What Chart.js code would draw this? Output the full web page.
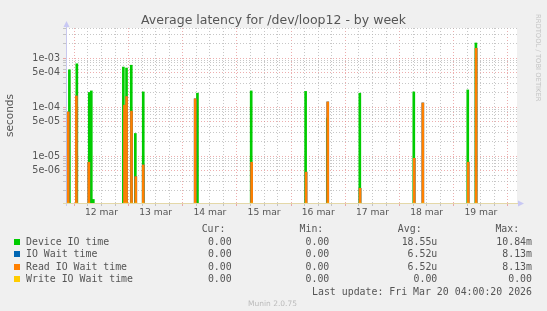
<!DOCTYPE html>
<html><head><meta charset="utf-8">
<script src="https://cdn.jsdelivr.net/npm/chart.js@4/dist/chart.umd.min.js"></script>
<style>
html,body{margin:0;padding:0;background:#f0f0f0;}
#wrap{position:relative;width:547px;height:311px;overflow:hidden;background:#f0f0f0;}
canvas{position:absolute;left:0;top:0;}
.t{position:absolute;white-space:pre;font-family:'DejaVu Sans Mono',monospace;font-size:9.9px;line-height:12px;color:#555;}
.sq{position:absolute;width:6px;height:6px;}
#rrd{position:absolute;left:534px;top:14px;writing-mode:vertical-rl;font-family:'DejaVu Sans',sans-serif;font-size:6.8px;line-height:8px;color:#c4c4c4;white-space:nowrap;}
#munin{position:absolute;left:0;width:545px;top:299px;text-align:center;font-family:'DejaVu Sans',sans-serif;font-size:7.5px;line-height:10px;color:#bbb;}
</style></head><body>
<div id="wrap"><canvas id="c" width="547" height="311"></canvas><div id="legend"></div><div id="rrd">RRDTOOL / TOBI OETIKER</div><div id="munin">Munin 2.0.75</div></div>
<script>
// ---- data (hours relative to 12 mar 00:00) ----
const dayLabels = ["12 mar","13 mar","14 mar","15 mar","16 mar","17 mar","18 mar","19 mar"];
const dayLabelHours = [12,36,60,84,108,132,156,180];
const xStartHour = -3.7;
const xEndHour = 196;
const yTickValues = [2e-6,3e-6,4e-6,5e-6,6e-6,7e-6,8e-6,9e-6,
  1e-5,2e-5,3e-5,4e-5,5e-5,6e-5,7e-5,8e-5,9e-5,
  1e-4,2e-4,3e-4,4e-4,5e-4,6e-4,7e-4,8e-4,9e-4,
  1e-3,2e-3,3e-3,4e-3];
const yLabelValues = [5e-6,1e-5,5e-5,1e-4,5e-4,1e-3];
const yLabelTexts = ["5e-06","1e-05","5e-05","1e-04","5e-04","1e-03"];
const yMin = 1.1e-6;
const yMax = 4.15e-3;

const deviceHours = [-2.2,1.1,6.6,7.5,8.4,21.7,23.1,25.2,27.0,30.5,54.5,78.3,102.4,112.0,126.4,150.3,174.2,177.8];
const deviceVals  = [5.8e-4,7.7e-4,2.0e-4,2.15e-4,1.3e-6,6.6e-4,6.3e-4,7.2e-4,2.9e-5,2.05e-4,1.93e-4,2.15e-4,2.1e-4,6e-5,1.93e-4,2.05e-4,2.25e-4,2.05e-3];
const waitHours   = [-2.7,0.9,6.4,22.2,23.1,25.3,27.2,30.5,53.5,78.5,102.6,112.2,126.5,150.5,154.3,174.4,177.9];
const ioWaitVals  = [8e-5,1.7e-4,7.5e-6,1.1e-4,1.65e-4,8.3e-5,3.8e-6,6.6e-6,1.48e-4,7.5e-6,4.7e-6,1.28e-4,2.2e-6,9e-6,1.22e-4,7.5e-6,1.6e-3];
const readWaitVals= [8e-5,1.7e-4,7.5e-6,1.1e-4,1.65e-4,8.3e-5,3.8e-6,6.6e-6,1.48e-4,7.5e-6,4.7e-6,1.28e-4,2.2e-6,9e-6,1.22e-4,7.5e-6,1.6e-3];
const writeWaitVals=[0,0,0,0,0,0,0,0,0,0,0,0,0,0,0,0,0];

const seriesNames = ["Device IO time","IO Wait time","Read IO Wait time","Write IO Wait time"];
const curVals = ["0.00","0.00","0.00","0.00"];
const minVals = ["0.00","0.00","0.00","0.00"];
const avgVals = ["18.55u","6.52u","6.52u","0.00"];
const maxVals = ["10.84m","8.13m","8.13m","0.00"];
const lastUpdate = "Last update: Fri Mar 20 04:00:20 2026";

// ---- styles ----
const COLORS = {device:'#00cc00', io:'#0066b3', read:'#ff8000', write:'#ffcc00'};
const seriesColorList = [COLORS.device, COLORS.io, COLORS.read, COLORS.write];
const GRID_MINOR = 'rgba(180,180,180,0.75)';
const GRID_MAJOR = 'rgba(225,120,120,0.6)';
const TEXT = '#555';

const near = (a,b) => Math.abs(a-b) <= Math.abs(b)*1e-6 + 1e-12;
const xTickHours = [];
for (let h = 0; h <= xEndHour; h += 6) xTickHours.push(h);

const pts = (hs, vs) => hs.map((h,i)=>({x:h, y:vs[i]}));

const bgPlugin = {
  id:'bg',
  beforeDraw(chart){
    const {ctx, chartArea:a} = chart;
    ctx.save(); ctx.fillStyle='#ffffff';
    ctx.fillRect(a.left, a.top, a.right-a.left, a.bottom-a.top);
    ctx.restore();
  }
};
const axisPlugin = {
  id:'axes',
  beforeDatasetsDraw(chart){
    const {ctx, chartArea:a} = chart;
    ctx.save();
    ctx.lineWidth = 1;
    ctx.strokeStyle = '#c8c8ee';
    ctx.beginPath(); ctx.moveTo(a.left+0.5, a.top-3); ctx.lineTo(a.left+0.5, a.bottom+3); ctx.stroke();
    ctx.strokeStyle = '#e4d8a8';
    ctx.beginPath(); ctx.moveTo(a.left-3, a.bottom+0.5); ctx.lineTo(a.right+2, a.bottom+0.5); ctx.stroke();
    ctx.fillStyle = '#c8c8f4';
    ctx.beginPath(); ctx.moveTo(a.left-2.5, a.top-1); ctx.lineTo(a.left+3.5, a.top-1); ctx.lineTo(a.left+0.5, a.top-7); ctx.closePath(); ctx.fill();
    ctx.beginPath(); ctx.moveTo(a.right+1, a.bottom-2.5); ctx.lineTo(a.right+1, a.bottom+3.5); ctx.lineTo(a.right+7, a.bottom+0.5); ctx.closePath(); ctx.fill();
    ctx.restore();
  }
};

new Chart(document.getElementById('c'), {
  type:'bar',
  data:{datasets:[
    {label:seriesNames[0], data:pts(deviceHours, deviceVals), backgroundColor:COLORS.device, order:4},
    {label:seriesNames[1], data:pts(waitHours, ioWaitVals), backgroundColor:COLORS.io, order:3},
    {label:seriesNames[2], data:pts(waitHours, readWaitVals), backgroundColor:COLORS.read, order:2},
    {label:seriesNames[3], data:pts(waitHours, writeWaitVals), backgroundColor:COLORS.write, order:1}
  ]},
  options:{
    responsive:false, animation:false, devicePixelRatio:1, events:[],
    datasets:{bar:{barThickness:2, grouped:false, borderWidth:0}},
    layout:{padding:{left:0,right:0,top:0,bottom:0}},
    plugins:{
      legend:{display:false}, tooltip:{enabled:false},
      title:{display:true, text:'Average latency for /dev/loop12 - by week', color:TEXT,
        font:{family:'DejaVu Sans', size:12.5, weight:'normal', lineHeight:1.2}, padding:{top:13,bottom:0}}
    },
    scales:{
      x:{type:'linear', min:xStartHour, max:xEndHour, offset:false,
        grid:{offset:false, lineWidth:1, tickLength:3, drawTicks:true,
          color:(c)=> (c.tick && c.tick.value % 24 === 0) ? GRID_MAJOR : GRID_MINOR},
        border:{display:false, dash:[1,2]},
        ticks:{autoSkip:false, maxRotation:0, minRotation:0, padding:1.5, color:TEXT,
          font:{family:'DejaVu Sans', size:9.2},
          callback:(v)=>{ const i = dayLabelHours.indexOf(v); return i>=0 ? dayLabels[i] : ''; }},
        afterBuildTicks:(s)=>{ s.ticks = xTickHours.map(v=>({value:v})); },
        afterFit:(s)=>{ s.height = 108; }
      },
      y:{type:'logarithmic', min:yMin, max:yMax,
        grid:{lineWidth:1, tickLength:3,
          color:(c)=> (c.tick && yLabelValues.some(l=>near(c.tick.value,l))) ? GRID_MAJOR : GRID_MINOR},
        border:{display:false, dash:[1,2]},
        ticks:{autoSkip:false, padding:3, color:TEXT, font:{family:'DejaVu Sans', size:9.6},
          callback:(v)=>{ const i = yLabelValues.findIndex(l=>near(v,l)); return i>=0 ? yLabelTexts[i] : ''; }},
        title:{display:true, text:'seconds', color:TEXT, font:{family:'DejaVu Sans', size:10.5, lineHeight:1.2}, padding:{top:4.4,bottom:0}},
        afterBuildTicks:(s)=>{ s.ticks = yTickValues.map(v=>({value:v})); },
        afterFit:(s)=>{ s.width = 66; }
      },
      yRight:{type:'linear', position:'right', display:true,
        grid:{display:false, drawTicks:false}, border:{display:false}, ticks:{display:false},
        afterFit:(s)=>{ s.width = 30; }
      }
    }
  },
  plugins:[bgPlugin, axisPlugin]
});

// ---- legend (text table) ----
const L = document.getElementById('legend');
function txt(s, y, opts){
  const d = document.createElement('div');
  d.className = 't'; d.textContent = s;
  d.style.top = (y - 6) + 'px';
  if (opts.right !== undefined) { d.style.right = (547 - opts.right) + 'px'; d.style.textAlign = 'right'; }
  else d.style.left = opts.left + 'px';
  L.appendChild(d);
}
const headerY = 229, rowY0 = 241.5, rowStep = 12.5;
const colHead = [225.4, 323.3, 421.6, 519.2];
const colVal = [231.7, 329.3, 437.3, 532];
["Cur:","Min:","Avg:","Max:"].forEach((h,i)=>txt(h, headerY, {right:colHead[i]}));
seriesNames.forEach((n,i)=>{
  const y = rowY0 + i*rowStep;
  const sq = document.createElement('div');
  sq.className='sq'; sq.style.left='14px'; sq.style.top=(y-3)+'px'; sq.style.background=seriesColorList[i];
  L.appendChild(sq);
  txt(n, y, {left:26});
  txt(curVals[i], y, {right:colVal[0]});
  txt(minVals[i], y, {right:colVal[1]});
  txt(avgVals[i], y, {right:colVal[2]});
  txt(maxVals[i], y, {right:colVal[3]});
});
txt(lastUpdate, rowY0 + 4*rowStep, {right:532});
</script>
</body></html>
